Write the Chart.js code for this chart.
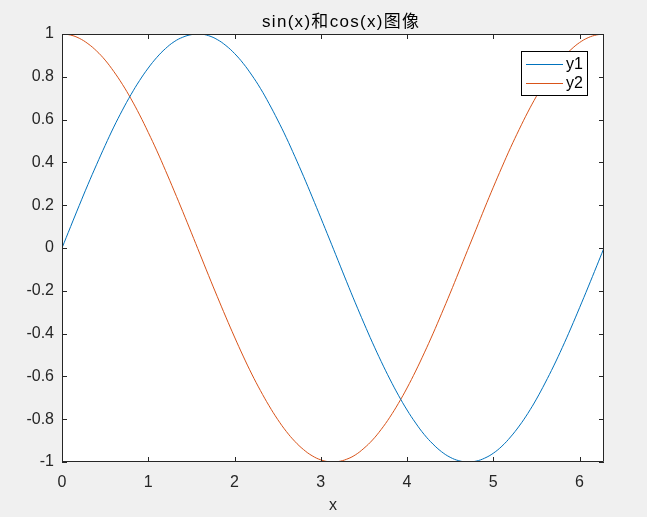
<!DOCTYPE html>
<html>
<head>
<meta charset="utf-8">
<script src="https://cdn.jsdelivr.net/npm/chart.js@4/dist/chart.umd.min.js"></script>
<style>
  html, body { margin: 0; padding: 0; background: #f0f0f0; }
  #wrap { width: 647px; height: 517px; }
</style>
</head>
<body>
<div id="wrap"><canvas id="plot" width="647" height="517"></canvas></div>
<script>
// values
const xs = [0, 0.1, 0.2, 0.3, 0.4, 0.5, 0.6, 0.7, 0.8, 0.9, 1.0, 1.1, 1.2, 1.3, 1.4, 1.5,
            1.6, 1.7, 1.8, 1.9, 2.0, 2.1, 2.2, 2.3, 2.4, 2.5, 2.6, 2.7, 2.8, 2.9, 3.0, 3.1,
            3.2, 3.3, 3.4, 3.5, 3.6, 3.7, 3.8, 3.9, 4.0, 4.1, 4.2, 4.3, 4.4, 4.5, 4.6, 4.7,
            4.8, 4.9, 5.0, 5.1, 5.2, 5.3, 5.4, 5.5, 5.6, 5.7, 5.8, 5.9, 6.0, 6.1, 6.2, 6.28];
const y1 = [0.000, 0.100, 0.199, 0.296, 0.389, 0.479, 0.565, 0.644, 0.717, 0.783, 0.841, 0.891, 0.932, 0.964, 0.985, 0.997,
            1.000, 0.992, 0.974, 0.946, 0.909, 0.863, 0.808, 0.746, 0.675, 0.598, 0.516, 0.427, 0.335, 0.239, 0.141, 0.042,
            -0.058, -0.158, -0.256, -0.351, -0.443, -0.530, -0.612, -0.688, -0.757, -0.818, -0.872, -0.916, -0.952, -0.978, -0.994, -1.000,
            -0.996, -0.982, -0.959, -0.926, -0.883, -0.832, -0.773, -0.706, -0.631, -0.551, -0.465, -0.374, -0.279, -0.182, -0.083, -0.003];
const y2 = [1.000, 0.995, 0.980, 0.955, 0.921, 0.878, 0.825, 0.765, 0.697, 0.622, 0.540, 0.454, 0.362, 0.267, 0.170, 0.071,
            -0.029, -0.129, -0.227, -0.323, -0.416, -0.505, -0.589, -0.666, -0.737, -0.801, -0.857, -0.904, -0.942, -0.971, -0.990, -0.999,
            -0.998, -0.987, -0.967, -0.936, -0.897, -0.848, -0.791, -0.726, -0.654, -0.575, -0.490, -0.401, -0.307, -0.211, -0.112, -0.012,
            0.087, 0.187, 0.284, 0.378, 0.469, 0.554, 0.635, 0.709, 0.776, 0.835, 0.886, 0.927, 0.960, 0.983, 0.996, 1.000];
const seriesNames = ['y1', 'y2'];
const xTicks = [0, 1, 2, 3, 4, 5, 6];
const yTicks = [-1, -0.8, -0.6, -0.4, -0.2, 0, 0.2, 0.4, 0.6, 0.8, 1];
const xMax = 6.2832;
const titleText = 'sin(x)和cos(x)图像';
const xLabel = 'x';

const FONT = "'Liberation Sans', Arial, 'Noto Sans CJK SC', sans-serif";
const INK = '#262626';

// frame, inner ticks, title and legend like a matlab axes
const matlabAxes = {
    id: 'matlabAxes',
    beforeDraw(chart) {
        const a = chart.chartArea, ctx = chart.ctx;
        ctx.save();
        ctx.fillStyle = '#ffffff';
        ctx.fillRect(a.left, a.top, a.right - a.left, a.bottom - a.top);
        ctx.restore();
    },
    afterDraw(chart) {
        const a = chart.chartArea, ctx = chart.ctx;
        const sx = chart.scales.x, sy = chart.scales.y;
        ctx.save();
        ctx.strokeStyle = INK;
        ctx.lineWidth = 1;
        ctx.beginPath();
        ctx.rect(a.left + 0.5, a.top + 0.5, a.right - a.left - 1, a.bottom - a.top - 1);
        xTicks.forEach(v => {
            const px = Math.round(sx.getPixelForValue(v)) + 0.5;
            ctx.moveTo(px, a.bottom); ctx.lineTo(px, a.bottom - 5);
            ctx.moveTo(px, a.top); ctx.lineTo(px, a.top + 5);
        });
        yTicks.forEach(v => {
            const py = Math.round(sy.getPixelForValue(v)) + 0.5;
            ctx.moveTo(a.left, py); ctx.lineTo(a.left + 5, py);
            ctx.moveTo(a.right, py); ctx.lineTo(a.right - 5, py);
        });
        ctx.stroke();

        // title
        ctx.fillStyle = '#000000';
        ctx.font = '17px ' + FONT;
        ctx.letterSpacing = '1.3px';
        ctx.textAlign = 'left';
        ctx.textBaseline = 'middle';
        ctx.fillText(titleText, 262, 22);
        ctx.letterSpacing = '0px';

        // legend
        ctx.font = '16px ' + FONT;
        const lx = 521, ly = 51, lw = 66, lh = 44;
        ctx.fillStyle = '#ffffff';
        ctx.fillRect(lx, ly, lw, lh);
        ctx.strokeStyle = '#000000';
        ctx.strokeRect(lx + 0.5, ly + 0.5, lw, lh);
        chart.data.datasets.forEach((ds, i) => {
            const yy = ly + 13 + i * 19;
            ctx.strokeStyle = ds.borderColor;
            ctx.beginPath();
            ctx.moveTo(lx + 5, yy + 0.5); ctx.lineTo(lx + 42, yy + 0.5);
            ctx.stroke();
            ctx.fillStyle = '#000000';
            ctx.textAlign = 'left';
            ctx.fillText(ds.label, lx + 45, yy + 1);
        });
        ctx.restore();
    }
};

new Chart(document.getElementById('plot'), {
    type: 'line',
    data: {
        datasets: [
            { label: seriesNames[0], data: xs.map((x, i) => ({ x: x, y: y1[i] })), borderColor: '#0072BD' },
            { label: seriesNames[1], data: xs.map((x, i) => ({ x: x, y: y2[i] })), borderColor: '#D95319' }
        ]
    },
    options: {
        responsive: false,
        animation: false,
        devicePixelRatio: 1,
        layout: { padding: { top: 34, right: 43, left: 0, bottom: 0 } },
        elements: {
            line: { borderWidth: 1, tension: 0.4, fill: false },
            point: { radius: 0 }
        },
        plugins: { legend: { display: false }, title: { display: false }, tooltip: { enabled: false } },
        scales: {
            x: {
                type: 'linear', min: 0, max: xMax,
                afterFit: s => { s.height = 55; },
                grid: { display: false, drawTicks: false },
                border: { display: false },
                afterBuildTicks: s => { s.ticks = xTicks.map(v => ({ value: v })); },
                ticks: { color: INK, font: { size: 16, family: FONT }, padding: 11, maxRotation: 0 },
                title: { display: true, text: xLabel, color: INK, font: { size: 16, family: FONT }, padding: { top: 0, bottom: 2 } }
            },
            y: {
                type: 'linear', min: -1, max: 1,
                afterFit: s => { s.width = 62; },
                grid: { display: false, drawTicks: false },
                border: { display: false },
                afterBuildTicks: s => { s.ticks = yTicks.map(v => ({ value: v })); },
                ticks: {
                    color: INK, font: { size: 16, family: FONT }, padding: 8,
                    callback: v => String(Number(v.toFixed(1)))
                }
            }
        }
    },
    plugins: [matlabAxes]
});
</script>
</body>
</html>
